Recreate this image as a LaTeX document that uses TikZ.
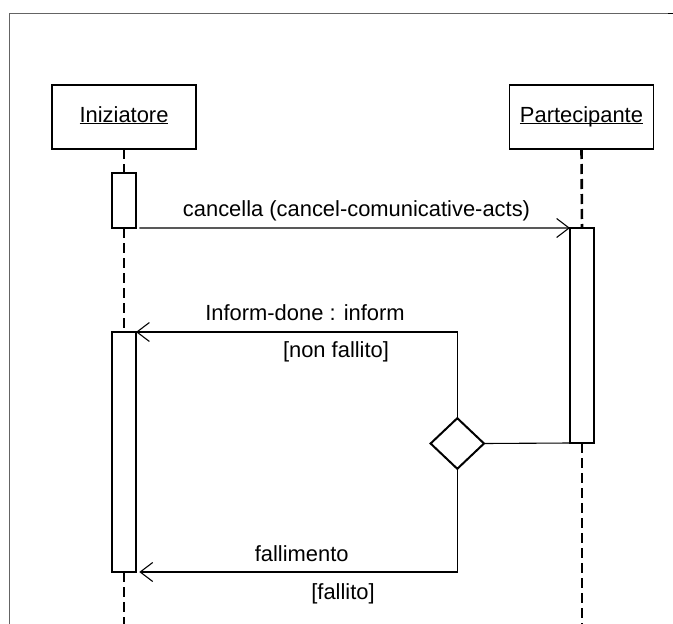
\documentclass[tikz,border=0pt]{standalone}
\usepackage{fontspec}
\setmainfont{Liberation Sans}
\usetikzlibrary{arrows.meta,shapes.geometric}
% underlined object name, the rule sits just below the baseline
\newcommand\ulabel[1]{\setbox0\hbox{#1}\rlap{\rule[-1.8bp]{\wd0}{1.2bp}}\box0}
\definecolor{framegray}{RGB}{100,100,100}

\begin{document}
\begin{tikzpicture}[x=1bp,y=-1bp,
  every node/.style={font=\fontsize{22}{26}\selectfont, inner sep=0pt, outer sep=0pt},
  actor/.style={draw, line width=1.2bp, minimum width=144bp, minimum height=64bp,
                text height=15bp, text depth=4bp},
  activation/.style={draw, fill=white, line width=1.2bp, minimum width=24bp},
  lifeline/.style={line width=2.6bp, dash pattern=on 10bp off 5bp},
  msg/.style={line width=1.1bp, -{Straight Barb[length=12.5bp,width=19bp,line width=1.1bp]}},
  link/.style={line width=1.1bp},
  decision/.style={draw, diamond, line width=2bp, minimum width=53.4bp, minimum height=50.6bp},
  frameline/.style={line width=1.5bp, draw=framegray}
]
\useasboundingbox (0,0) rectangle (673,624);

% outer frame (top and left edges)
\draw[frameline] (9.5,624) -- (9.5,13.3) -- (668,13.3);
\draw[line width=1.5bp] (668,13.3) -- (673,13.3);

% participants
\node[actor] (ini) at (124,117) {\ulabel{Iniziatore}};
\node[actor] (par) at (581.5,117) {\ulabel{Partecipante}};

% activation bars
\node[activation, minimum height=55bp]  (a1) at (124,200.5) {};
\node[activation, minimum height=215bp] (a2) at (582,335.5) {};
\node[activation, minimum height=240bp] (a3) at (124,452) {};

% decision point
\node[decision] (dec) at (457.3,443.5) {};

% lifeline ends
\coordinate (endI) at (124,624);
\coordinate (endP) at (582,624);

% lifelines
\draw[lifeline] (ini.south) -- (a1.north);
\draw[lifeline] (a1.south) -- (a3.north);
\draw[lifeline] (a3.south) -- (endI);
\draw[lifeline] (par.south) -- (a2.north);
\draw[lifeline] (a2.south) -- (endP);

% messages
\draw[msg] ([xshift=3.3bp]a1.south east) -- (a2.north west);
\draw[link] (a2.south west) -- (dec.east);
\draw[msg] (dec.north) |- (a3.north east);
\draw[msg] (dec.south) |- ([xshift=3.3bp]a3.south east);

% labels
\node[anchor=base] (lcanc) at (356.5,216.5) {cancella (cancel-comunicative-acts)};
\node[anchor=base] (linf)  at (305,320.7) {Inform-done : inform};
\node[anchor=base] (lnf)   at (336,357.3) {[non fallito]};
\node[anchor=base] (lfal)  at (301.7,561.7) {fallimento};
\node[anchor=base] (lf)    at (343,599) {[fallito]};
\end{tikzpicture}
\end{document}
